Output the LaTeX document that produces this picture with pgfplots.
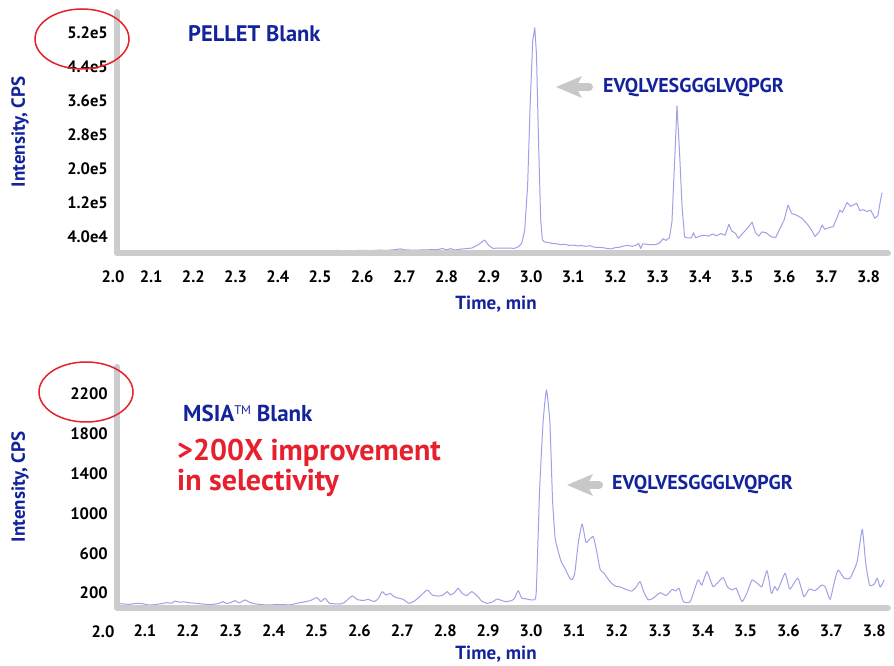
\documentclass[border=0pt]{standalone}
\usepackage{fontspec}
\setmainfont{PT Sans}
\usepackage{pgfplots}
\pgfplotsset{compat=1.18}
\definecolor{navy}{RGB}{20,35,155}
\definecolor{hred}{RGB}{230,32,45}
\definecolor{lav}{RGB}{160,160,232}
\definecolor{axgrey}{RGB}{204,204,204}
\definecolor{argrey}{RGB}{200,200,200}
\newcommand{\tickfont}{\fontsize{16.5}{16.5}\selectfont\bfseries}
\newcommand{\labfont}{\fontsize{19}{19}\selectfont\bfseries}
\pgfplotsset{
  chrom/.style={
    scale only axis, width=771pt, clip=false,
    axis x line=bottom, axis y line=left,
    axis line style={draw=none,-},
    major tick length=0pt, tick style={draw=none},
    scaled y ticks=false, scaled x ticks=false,
    /pgf/number format/assume math mode=true,
    ticklabel style={font=\tickfont, text=black},
    yticklabel style={anchor=east, inner sep=0pt, xshift=-9pt},
    xticklabel style={anchor=center, inner sep=0pt, yshift=-23pt},
    xtick={2.1,2.2,2.3,2.4,2.5,2.6,2.7,2.8,2.9,3.0,3.1,3.2,3.3,3.4,3.5,3.6,3.7,3.8},
    xticklabels={2.1,2.2,2.3,2.4,2.5,2.6,2.7,2.8,2.9,3.0,3.1,3.2,3.3,3.4,3.5,3.6,3.7,3.8},
  }
}
\begin{document}
\begin{tikzpicture}[x=1pt,y=1pt]
\useasboundingbox (0pt,0pt) rectangle (894pt,666pt);
% ---------- top: PELLET blank
\begin{axis}[chrom, at={(117pt,412pt)}, anchor=south west, height=242pt,
  xmin=2.019, xmax=3.846, ymin=0, ymax=569000,
  ytick={40000,120000,200000,280000,360000,440000,520000},
  yticklabels={4.0e4,1.2e5,2.0e5,2.8e5,3.6e5,4.4e5,5.2e5}]
\addplot[color=lav, line width=1pt, line join=round] coordinates {
(2.020,6000)(2.040,5500)(2.060,6500)(2.080,5000)(2.100,6000)(2.120,5500)
(2.140,6500)(2.160,5000)(2.180,6000)(2.200,5500)(2.220,6000)(2.240,5000)
(2.260,6500)(2.280,6000)(2.300,5500)(2.320,6000)(2.340,7000)(2.360,6500)
(2.380,7500)(2.400,6500)(2.420,7000)(2.440,6500)(2.460,7500)(2.480,8000)
(2.500,7000)(2.520,7500)(2.540,8500)(2.560,7500)(2.580,8000)(2.600,8500)
(2.620,8000)(2.640,9000)(2.660,8500)(2.680,10500)(2.690,12000)(2.700,10000)
(2.720,9000)(2.740,9500)(2.760,10000)(2.780,10500)(2.790,13000)(2.800,10000)
(2.810,12500)(2.820,9500)(2.830,11000)(2.840,12000)(2.860,14000)(2.875,22000)
(2.890,33000)(2.900,20000)(2.910,13000)(2.920,14000)(2.935,13500)(2.950,14000)
(2.960,13000)(2.970,17000)(2.978,25000)(2.985,55000)(2.992,160000)(2.998,350000)
(3.004,500000)(3.009,532000)(3.013,470000)(3.018,260000)(3.023,80000)(3.027,33000)
(3.033,28000)(3.040,27000)(3.050,25000)(3.060,24000)(3.070,22000)(3.080,23000)
(3.090,20000)(3.100,21000)(3.110,19000)(3.120,20000)(3.130,18000)(3.140,19500)
(3.150,16000)(3.160,15500)(3.170,15000)(3.180,13000)(3.190,12000)(3.200,15000)
(3.210,16000)(3.220,19000)(3.230,20000)(3.240,18000)(3.250,21000)(3.255,25000)
(3.260,13000)(3.265,24000)(3.280,22000)(3.295,22000)(3.305,26000)(3.313,36000)
(3.320,32000)(3.328,38000)(3.334,75000)(3.340,210000)(3.346,348000)(3.352,240000)
(3.358,110000)(3.364,40000)(3.370,38000)(3.380,38000)(3.385,50000)(3.390,38000)
(3.400,42000)(3.410,44000)(3.420,42000)(3.430,47000)(3.440,43000)(3.450,48000)
(3.460,44000)(3.469,70000)(3.475,55000)(3.485,48000)(3.491,37000)(3.505,52000)
(3.515,63000)(3.524,75000)(3.532,50000)(3.540,42000)(3.547,52000)(3.557,50000)
(3.570,40000)(3.580,39000)(3.590,60000)(3.600,80000)(3.609,115000)(3.618,95000)
(3.628,92000)(3.642,84000)(3.655,70000)(3.665,56000)(3.673,41000)(3.683,52000)
(3.690,68000)(3.696,58000)(3.706,62000)(3.716,64000)(3.725,85000)(3.732,103000)
(3.738,98000)(3.749,121000)(3.757,112000)(3.765,116000)(3.772,119000)(3.779,102000)
(3.787,104000)(3.796,100000)(3.805,103000)(3.815,84000)(3.822,90000)(3.828,125000)
(3.832,144000)
};
\end{axis}
% ---------- bottom: MSIA blank
\begin{axis}[chrom, at={(117pt,58pt)}, anchor=south west, height=241pt,
  xmin=2.035, xmax=3.832, ymin=50, ymax=2472,
  ytick={200,600,1000,1400,1800,2200},
  yticklabels={200,600,1000,1400,1800,2200}]
\addplot[color=lav, line width=1pt, line join=round, smooth, tension=0.3] coordinates {
(2.038,95)(2.050,90)(2.065,87)(2.080,97)(2.095,92)(2.110,80)(2.125,85)(2.140,95)
(2.152,104)(2.162,98)(2.170,120)(2.180,108)(2.190,112)(2.200,105)(2.212,100)
(2.230,92)(2.252,84)(2.265,90)(2.275,100)(2.282,114)(2.290,95)(2.300,105)
(2.310,124)(2.320,100)(2.333,131)(2.345,105)(2.360,90)(2.385,80)(2.410,85)
(2.438,82)(2.452,95)(2.470,110)(2.485,124)(2.501,154)(2.510,115)(2.520,147)
(2.530,97)(2.545,92)(2.555,90)(2.565,105)(2.583,171)(2.595,135)(2.610,125)
(2.620,137)(2.635,115)(2.645,150)(2.653,214)(2.662,180)(2.672,197)(2.680,165)
(2.690,150)(2.702,137)(2.715,97)(2.728,120)(2.742,170)(2.758,231)(2.770,180)
(2.785,170)(2.795,181)(2.805,215)(2.812,180)(2.822,205)(2.830,248)(2.840,195)
(2.850,175)(2.862,214)(2.875,170)(2.885,120)(2.897,97)(2.910,110)(2.920,140)
(2.928,131)(2.940,114)(2.955,125)(2.962,150)(2.970,224)(2.978,150)(2.985,145)
(2.993,137)(3.005,131)(3.012,200)(3.020,1236)(3.028,1910)(3.036,2241)(3.044,1910)
(3.050,1150)(3.056,760)(3.062,640)(3.070,520)(3.080,440)(3.090,350)(3.096,335)
(3.102,400)(3.110,700)(3.119,894)(3.128,710)(3.136,740)(3.145,767)(3.152,640)
(3.161,440)(3.170,400)(3.184,315)(3.196,270)(3.205,265)(3.214,250)(3.225,231)
(3.235,220)(3.245,260)(3.254,315)(3.263,210)(3.273,131)(3.285,150)(3.301,204)
(3.315,175)(3.329,238)(3.337,220)(3.345,248)(3.355,114)(3.371,114)(3.389,332)
(3.398,280)(3.410,415)(3.424,265)(3.436,310)(3.448,355)(3.458,260)(3.470,231)
(3.478,250)(3.492,114)(3.505,220)(3.515,332)(3.527,300)(3.538,265)(3.550,425)
(3.560,197)(3.568,265)(3.575,230)(3.592,399)(3.603,240)(3.622,349)(3.636,164)
(3.648,240)(3.662,225)(3.678,281)(3.686,260)(3.697,137)(3.708,330)(3.716,432)
(3.730,349)(3.744,352)(3.760,516)(3.772,841)(3.780,500)(3.789,281)(3.800,290)
(3.807,349)(3.814,260)(3.823,332)
};
\end{axis}
% ---------- axis lines (grey L shapes)
\draw[axgrey, line width=6pt, line cap=round, line join=round] (117,654) -- (117,412.5) -- (888,412.5);
\draw[axgrey, line width=6pt, line cap=round, line join=round] (117,299) -- (117,58) -- (888,58);
% ---------- 2.0 labels
\node[font=\tickfont, inner sep=0pt] at (113,389) {2.0};
\node[font=\tickfont, inner sep=0pt] at (103,34) {2.0};
% ---------- axis titles
\node[font=\labfont, text=navy, rotate=90] at (20,534) {Intensity, CPS};
\node[font=\labfont, text=navy, rotate=90] at (20,179) {Intensity, CPS};
\node[font=\labfont, text=navy, inner sep=0pt] at (496,362) {Time, min};
\node[font=\labfont, text=navy, inner sep=0pt, anchor=base] at (496,6) {Time, min};
% ---------- annotations
\node[font=\fontsize{22.5}{22.5}\selectfont\bfseries, text=navy, anchor=west, inner sep=0pt] at (188,632) {PELLET Blank};
\node[font=\fontsize{20}{20}\selectfont\bfseries, text=navy, anchor=west, inner sep=0pt] at (603,578) {EVQLVESGGGLVQPGR};
\node[font=\fontsize{20}{20}\selectfont\bfseries, text=navy, anchor=west, inner sep=0pt] at (612,181) {EVQLVESGGGLVQPGR};
\node[font=\fontsize{23}{23}\selectfont\bfseries, text=navy, anchor=west, inner sep=0pt] at (183,253) {MSIA\raisebox{0.55ex}{\fontsize{12.5}{12.5}\selectfont\mdseries TM} Blank};
\node[font=\fontsize{30}{30}\selectfont\bfseries, text=hred, anchor=west, inner sep=0pt] at (177,213) {>200X improvement};
\node[font=\fontsize{30}{30}\selectfont\bfseries, text=hred, anchor=west, inner sep=0pt] at (177,183) {in selectivity};
% arrows
\draw[argrey, line width=8pt, line cap=round] (575,579) -- (589,579);
\fill[argrey] (556,579) -- (582,590) -- (576,579) -- (582,568) -- cycle;
\draw[argrey, line width=8pt, line cap=round] (586,181) -- (599,181);
\fill[argrey] (567,181) -- (593,192) -- (587,181) -- (593,170) -- cycle;
% red ellipses
\draw[hred, line width=1.5pt] (82,627) ellipse [x radius=47, y radius=30];
\draw[hred, line width=1.5pt] (86,274) ellipse [x radius=47, y radius=30];
\end{tikzpicture}
\end{document}
